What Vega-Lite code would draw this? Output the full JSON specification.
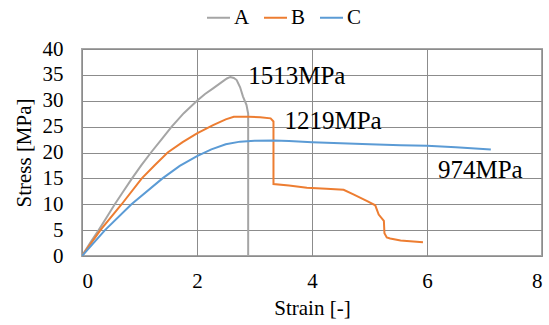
{
  "$schema": "https://vega.github.io/schema/vega-lite/v6.json",
  "width": 460,
  "height": 207,
  "autosize": "none",
  "padding": {"left": 82, "top": 49, "right": 7, "bottom": 69},
  "background": "white",
  "view": {"stroke": "#a6a6a6", "strokeWidth": 2},
  "config": {
    "font": "Liberation Serif",
    "style": {
      "guide-label": {"font": "Liberation Serif", "fontSize": 21, "fill": "#000000"},
      "guide-title": {"font": "Liberation Serif", "fontSize": 21, "fontWeight": "normal", "fill": "#000000"}
    },
    "axis": {"labelFont": "Liberation Serif", "titleFont": "Liberation Serif", "labelFontSize": 21, "titleFontSize": 21, "titleFontWeight": "normal", "labelColor": "#000000", "titleColor": "#000000", "gridColor": "#8c8c8c", "gridOpacity": 1, "domain": false, "ticks": false},
    "legend": {"labelFont": "Liberation Serif", "labelFontSize": 21, "labelColor": "#000000"}
  },
  "datasets": {
    "curves": [
      {"s": "A", "i": 0, "x": 0, "y": 0},
      {"s": "A", "i": 1, "x": 0.14, "y": 2.5},
      {"s": "A", "i": 2, "x": 0.29, "y": 5},
      {"s": "A", "i": 3, "x": 0.43, "y": 7.5},
      {"s": "A", "i": 4, "x": 0.57, "y": 10},
      {"s": "A", "i": 5, "x": 0.72, "y": 12.5},
      {"s": "A", "i": 6, "x": 0.87, "y": 15},
      {"s": "A", "i": 7, "x": 1.03, "y": 17.5},
      {"s": "A", "i": 8, "x": 1.2, "y": 20},
      {"s": "A", "i": 9, "x": 1.38, "y": 22.5},
      {"s": "A", "i": 10, "x": 1.56, "y": 25},
      {"s": "A", "i": 11, "x": 1.77, "y": 27.6},
      {"s": "A", "i": 12, "x": 2.0, "y": 30},
      {"s": "A", "i": 13, "x": 2.14, "y": 31.3},
      {"s": "A", "i": 14, "x": 2.28, "y": 32.4},
      {"s": "A", "i": 15, "x": 2.43, "y": 33.6},
      {"s": "A", "i": 16, "x": 2.52, "y": 34.3},
      {"s": "A", "i": 17, "x": 2.58, "y": 34.6},
      {"s": "A", "i": 18, "x": 2.64, "y": 34.4},
      {"s": "A", "i": 19, "x": 2.69, "y": 34.0},
      {"s": "A", "i": 20, "x": 2.75, "y": 32.6},
      {"s": "A", "i": 21, "x": 2.8, "y": 30.8},
      {"s": "A", "i": 22, "x": 2.86, "y": 29.2},
      {"s": "A", "i": 23, "x": 2.89, "y": 27.5},
      {"s": "A", "i": 24, "x": 2.89, "y": 0},
      {"s": "B", "i": 0, "x": 0, "y": 0},
      {"s": "B", "i": 1, "x": 0.32, "y": 5},
      {"s": "B", "i": 2, "x": 0.69, "y": 10},
      {"s": "B", "i": 3, "x": 1.04, "y": 15},
      {"s": "B", "i": 4, "x": 1.26, "y": 17.5},
      {"s": "B", "i": 5, "x": 1.49, "y": 20},
      {"s": "B", "i": 6, "x": 1.75, "y": 22},
      {"s": "B", "i": 7, "x": 2.0, "y": 23.7},
      {"s": "B", "i": 8, "x": 2.28, "y": 25.3},
      {"s": "B", "i": 9, "x": 2.5, "y": 26.4},
      {"s": "B", "i": 10, "x": 2.64, "y": 26.9},
      {"s": "B", "i": 11, "x": 2.9, "y": 26.9},
      {"s": "B", "i": 12, "x": 3.1, "y": 26.8},
      {"s": "B", "i": 13, "x": 3.28, "y": 26.6},
      {"s": "B", "i": 14, "x": 3.33, "y": 26.0},
      {"s": "B", "i": 15, "x": 3.33, "y": 13.9},
      {"s": "B", "i": 16, "x": 3.6, "y": 13.6},
      {"s": "B", "i": 17, "x": 3.91, "y": 13.2},
      {"s": "B", "i": 18, "x": 4.25, "y": 13.0},
      {"s": "B", "i": 19, "x": 4.55, "y": 12.8},
      {"s": "B", "i": 20, "x": 4.72, "y": 11.9},
      {"s": "B", "i": 21, "x": 4.96, "y": 10.6},
      {"s": "B", "i": 22, "x": 5.1, "y": 9.8},
      {"s": "B", "i": 23, "x": 5.16, "y": 8.0},
      {"s": "B", "i": 24, "x": 5.25, "y": 6.8},
      {"s": "B", "i": 25, "x": 5.26, "y": 4.4},
      {"s": "B", "i": 26, "x": 5.3, "y": 3.6},
      {"s": "B", "i": 27, "x": 5.36, "y": 3.4},
      {"s": "B", "i": 28, "x": 5.54, "y": 3.0},
      {"s": "B", "i": 29, "x": 5.65, "y": 2.9},
      {"s": "B", "i": 30, "x": 5.93, "y": 2.65},
      {"s": "C", "i": 0, "x": 0, "y": 0},
      {"s": "C", "i": 1, "x": 0.4, "y": 5},
      {"s": "C", "i": 2, "x": 0.86, "y": 10},
      {"s": "C", "i": 3, "x": 1.4, "y": 15},
      {"s": "C", "i": 4, "x": 1.7, "y": 17.4},
      {"s": "C", "i": 5, "x": 2.0, "y": 19.3},
      {"s": "C", "i": 6, "x": 2.25, "y": 20.6},
      {"s": "C", "i": 7, "x": 2.5, "y": 21.6},
      {"s": "C", "i": 8, "x": 2.75, "y": 22.1},
      {"s": "C", "i": 9, "x": 3.0, "y": 22.25},
      {"s": "C", "i": 10, "x": 3.33, "y": 22.3},
      {"s": "C", "i": 11, "x": 3.6, "y": 22.2},
      {"s": "C", "i": 12, "x": 4.0, "y": 22.0},
      {"s": "C", "i": 13, "x": 4.5, "y": 21.8},
      {"s": "C", "i": 14, "x": 5.0, "y": 21.6},
      {"s": "C", "i": 15, "x": 5.54, "y": 21.4},
      {"s": "C", "i": 16, "x": 6.0, "y": 21.3},
      {"s": "C", "i": 17, "x": 6.5, "y": 21.0},
      {"s": "C", "i": 18, "x": 7.11, "y": 20.6}
    ],
    "notes": [
      {"label": "1513MPa", "x": 2.89, "y": 33.2},
      {"label": "1219MPa", "x": 3.52, "y": 24.5},
      {"label": "974MPa", "x": 6.19, "y": 15.1}
    ]
  },
  "encoding": {
    "x": {
      "field": "x", "type": "quantitative",
      "scale": {"domain": [0, 8], "nice": false},
      "axis": {"values": [0, 2, 4, 6, 8], "format": "d", "title": "Strain [-]", "labelPadding": 14, "titlePadding": 6,
        "grid": true, "gridColor": "#8c8c8c", "gridWidth": 1, "gridOpacity": 1, "domain": false, "ticks": false,
        "labelFont": "Liberation Serif", "labelFontSize": 21, "labelColor": "#000000",
        "titleFont": "Liberation Serif", "titleFontSize": 21, "titleFontWeight": "normal", "titleColor": "#000000"}
    },
    "y": {
      "field": "y", "type": "quantitative",
      "scale": {"domain": [0, 40], "nice": false},
      "axis": {"values": [0, 5, 10, 15, 20, 25, 30, 35, 40], "format": "d", "title": "Stress [MPa]", "labelPadding": 19, "titlePadding": 8,
        "grid": true, "gridColor": "#8c8c8c", "gridWidth": 1, "gridOpacity": 1, "domain": false, "ticks": false,
        "labelFont": "Liberation Serif", "labelFontSize": 21, "labelColor": "#000000",
        "titleFont": "Liberation Serif", "titleFontSize": 21, "titleFontWeight": "normal", "titleColor": "#000000"}
    }
  },
  "layer": [
    {
      "data": {"name": "curves"},
      "mark": {"type": "line", "strokeWidth": 2, "clip": true},
      "encoding": {
        "color": {
          "field": "s", "type": "nominal",
          "scale": {"domain": ["A", "B", "C"], "range": ["#a5a5a5", "#ed7d31", "#5b9bd5"]},
          "legend": {
            "title": null,
            "orient": "none",
            "direction": "horizontal",
            "legendX": 124,
            "legendY": -44,
            "symbolType": "stroke",
            "symbolSize": 529,
            "symbolStrokeWidth": 2,
            "labelOffset": 3,
            "columnPadding": 10,
            "labelFont": "Liberation Serif",
            "labelFontSize": 21,
            "labelColor": "#000000"
          }
        },
        "order": {"field": "i", "type": "quantitative"}
      }
    },
    {
      "data": {"name": "notes"},
      "mark": {"type": "text", "font": "Liberation Serif", "fontSize": 25, "align": "left", "baseline": "alphabetic", "color": "#000000"},
      "encoding": {
        "text": {"field": "label"}
      }
    }
  ]
}
